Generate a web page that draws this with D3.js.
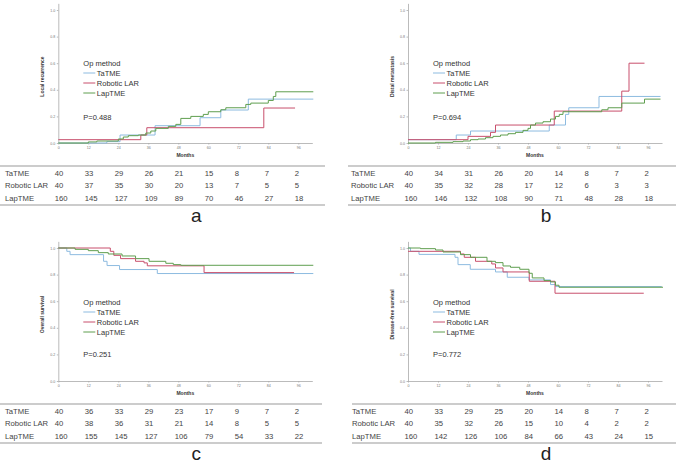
<!DOCTYPE html>
<head>
	<meta charset="utf-8">
	<style>
		body { margin: 0; background: #fff; }
		svg { font-family: "Liberation Sans", Arial, sans-serif; }
		.tick text { fill: #777; font-size: 3.6px; }
		.axis path, .axis line { stroke: #aaa; stroke-width: 0.8; }
		.axlabel { font-size: 5px; font-weight: bold; fill: #333; }
		.legend text, .pval { font-size: 7.5px; fill: #333; }
		.risk { font-size: 7.7px; fill: #444; }
		.rule { stroke: #999; stroke-width: 1; }
		.letter { font-size: 19px; fill: #222; }
	</style>
</head>
<body>
	<svg width="676" height="464" viewBox="0 0 676 464"></svg>
	<script src="https://d3js.org/d3.v7.min.js"></script>
	<script>
		// shared stuff
		var months = [0, 12, 24, 36, 48, 60, 72, 84, 96];
		var groups = ["TaTME", "Robotic LAR", "LapTME"];
		var yTicks = [0, 0.2, 0.4, 0.6, 0.8, 1.0];

		// a - local recurrence
		var lrTaTME = [[0,0],[19.4,0.01],[24.7,0.06],[38.7,0.13],[56.7,0.19],[65,0.248],[76,0.33],[102,0.33]];
		var lrRobotic = [[0,0.025],[33,0.06],[35.4,0.115],[82.2,0.263],[94.7,0.263]];
		var lrLapTME = [[0,0],[12,0.008],[15.4,0.015],[24,0.03],[26,0.045],[28,0.055],[32,0.06],[35,0.075],[37,0.09],[39,0.11],[44,0.125],[47,0.14],[49,0.185],[53,0.2],[58,0.215],[60,0.235],[65,0.25],[67,0.265],[75,0.29],[77,0.3],[84,0.32],[86,0.35],[87,0.385],[102,0.385]];
		var riskA = [[40,33,29,26,21,15,8,7,2],[40,37,35,30,20,13,7,5,5],[160,145,127,109,89,70,46,27,18]];

		// b - distal metastasis
		var dmTaTME = [[0,0.025],[19.3,0.06],[25,0.09],[56.5,0.135],[63,0.215],[64.3,0.265],[76.4,0.35],[101,0.35]];
		var dmRobotic = [[0,0.025],[24,0.05],[33,0.08],[35,0.135],[58.5,0.24],[85.5,0.39],[88.4,0.6],[94.6,0.6]];
		var dmLapTME = [[0,0],[11,0.005],[18,0.01],[22,0.015],[25,0.025],[28,0.03],[31,0.04],[34,0.05],[37,0.06],[40,0.07],[43,0.08],[46,0.095],[48,0.11],[49,0.135],[51,0.15],[54,0.16],[57,0.18],[59,0.2],[60.5,0.215],[62,0.235],[77.5,0.25],[80,0.265],[85.5,0.3],[94.6,0.33],[101,0.33]];
		var riskB = [[40,34,31,26,20,14,8,7,2],[40,35,32,28,17,12,6,3,3],[160,146,132,108,90,71,48,28,18]];

		// c - overall survival
		var osTaTME = [[0,1],[3.4,0.975],[4.7,0.95],[18.1,0.9],[19.5,0.868],[24.5,0.838],[39.6,0.808],[102,0.808]];
		var osRobotic = [[0,1],[20.8,0.975],[22.2,0.945],[24.9,0.92],[30.9,0.9],[34.3,0.888],[35.6,0.866],[58.3,0.815],[94.3,0.815]];
		var osLapTME = [[0,1],[6.7,0.99],[12,0.98],[16,0.965],[20,0.955],[25.5,0.94],[30.9,0.92],[36.3,0.9],[43,0.885],[46,0.875],[49,0.87],[102,0.87]];
		var riskC = [[40,36,33,29,23,17,9,7,2],[40,38,36,31,21,14,8,5,5],[160,155,145,127,106,79,54,33,22]];

		// d - disease-free survival
		var dfsTaTME = [[0,1],[1,0.975],[4.4,0.952],[18.8,0.93],[20,0.875],[24.9,0.84],[35,0.82],[39.7,0.78],[48.4,0.76],[57,0.725],[59,0.71],[101.5,0.71]];
		var dfsRobotic = [[0,0.975],[21,0.955],[22.5,0.93],[27,0.9],[33.5,0.88],[35,0.85],[38,0.82],[48.5,0.75],[58.8,0.66],[94.3,0.66]];
		var dfsLapTME = [[0,1],[5,0.995],[11,0.985],[14,0.97],[21,0.95],[25,0.93],[31.6,0.9],[35,0.89],[38,0.865],[41,0.855],[44.7,0.84],[48.4,0.81],[49.7,0.775],[54.4,0.755],[57,0.745],[59,0.72],[60.4,0.705],[102,0.705]];
		var riskD = [[40,33,29,25,20,14,8,7,2],[40,35,32,26,15,10,4,2,2],[160,142,126,106,84,66,43,24,15]];

		var color = ["#8dbbe0", "#c84f6c", "#5f9e4f"];

		var panels = [
			{ left: 58.3, top: 10, yLab: "Local recurrence", p: "P=0.488", letter: "a", curves: [lrTaTME, lrRobotic, lrLapTME], risk: riskA, legendY: 63, pY: 117, table: [0, 325], labX: 5 },
			{ left: 408, top: 10, yLab: "Distal metastasis", p: "P=0.694", letter: "b", curves: [dmTaTME, dmRobotic, dmLapTME], risk: riskB, legendY: 63, pY: 117, table: [348, 676], labX: 351 },
			{ left: 58.3, top: 248, yLab: "Overall survival", p: "P=0.251", letter: "c", curves: [osTaTME, osRobotic, osLapTME], risk: riskC, legendY: 302, pY: 354, table: [0, 322], labX: 5 },
			{ left: 408, top: 248, yLab: "Disease-free survival", p: "P=0.772", letter: "d", curves: [dfsTaTME, dfsRobotic, dfsLapTME], risk: riskD, legendY: 302, pY: 354, table: [352, 676], labX: 352 }
		];

		var svg = d3.select("svg");
		var plotW = 254, plotH = 133;

		panels.forEach(function (p) {
			var g = svg.append("g");
			var bottom = p.top + plotH;

			var x = d3.scaleLinear().domain([0, 101.6]).range([p.left, p.left + plotW]);
			var y = d3.scaleLinear().domain([0, 1.05]).range([bottom, bottom - plotH * 1.05]);

			g.append("g")
				.attr("class", "axis")
				.attr("transform", "translate(0," + bottom + ")")
				.call(d3.axisBottom(x).tickValues(months).tickSize(1.5).tickSizeOuter(0).tickPadding(1.5));

			g.append("g")
				.attr("class", "axis")
				.attr("transform", "translate(" + p.left + ",0)")
				.call(d3.axisLeft(y).tickValues(yTicks).tickFormat(d3.format(".1f")).tickSize(1.5).tickSizeOuter(0).tickPadding(1.5));

			g.append("text")
				.attr("class", "axlabel")
				.attr("x", p.left + plotW / 2)
				.attr("y", bottom + 14)
				.attr("text-anchor", "middle")
				.text("Months");

			g.append("text")
				.attr("class", "axlabel")
				.attr("transform", "translate(" + (p.left - 14) + "," + (p.top + plotH / 2) + ") rotate(-90)")
				.attr("text-anchor", "middle")
				.text(p.yLab);

			// KM curves
			var line = d3.line()
				.x(function (d) { return x(d[0]); })
				.y(function (d) { return y(d[1]); })
				.curve(d3.curveStepAfter);

			g.selectAll("path.km")
				.data(p.curves)
				.enter().append("path")
				.attr("class", "km")
				.attr("fill", "none")
				.attr("stroke", function (d, i) { return color[i]; })
				.attr("stroke-width", 1)
				.attr("d", line);

			// legend
			var lg = g.append("g").attr("class", "legend");
			var lx = p.left + 25;
			lg.append("text").attr("x", lx).attr("y", p.legendY + 2.5).attr("fill", "#333").text("Op method");
			groups.forEach(function (name, i) {
				var ly = p.legendY + 10 * (i + 1);
				lg.append("line")
					.attr("x1", lx).attr("x2", lx + 12)
					.attr("y1", ly).attr("y2", ly)
					.attr("stroke", color[i]).attr("stroke-width", 1);
				lg.append("text").attr("x", lx + 13.5).attr("y", ly + 2.5).attr("fill", "#333").text(name);
			});

			g.append("text")
				.attr("class", "pval")
				.attr("x", lx)
				.attr("y", p.pY + 2.5)
				.attr("fill", "#333")
				.text(p.p);

			// number at risk table
			var tTop = bottom + 23;
			g.append("line").attr("class", "rule")
				.attr("x1", p.table[0]).attr("x2", p.table[1])
				.attr("y1", tTop).attr("y2", tTop);
			g.append("line").attr("class", "rule")
				.attr("x1", p.table[0]).attr("x2", p.table[1])
				.attr("y1", tTop + 39).attr("y2", tTop + 39);

			p.risk.forEach(function (row, i) {
				var ry = tTop + 7 + 12.7 * i + 2.7;
				g.append("text").attr("class", "risk")
					.attr("x", p.labX).attr("y", ry).text(groups[i]);
				g.selectAll(null)
					.data(row)
					.enter().append("text")
					.attr("class", "risk")
					.attr("x", function (d, j) { return x(months[j]) - 3.5; })
					.attr("y", ry)
					.text(String);
			});

			g.append("text")
				.attr("class", "letter")
				.attr("x", p.left + 138)
				.attr("y", bottom + 79)
				.attr("text-anchor", "middle")
				.text(p.letter);
		});
	</script>
</body>
